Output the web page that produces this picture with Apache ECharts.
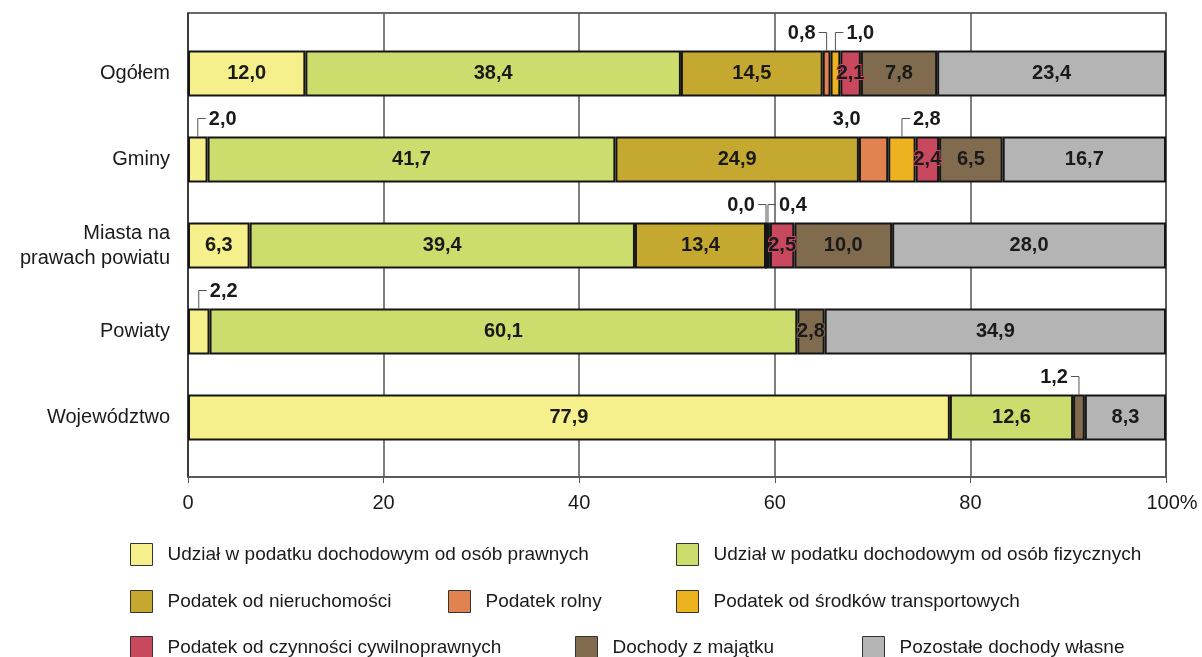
<!DOCTYPE html>
<html>
<head>
<meta charset="utf-8">
<script src="https://cdn.jsdelivr.net/npm/echarts@6/dist/echarts.min.js"></script>
<style>
html,body{margin:0;padding:0;background:#fff;}
#chart{width:1202px;height:657px;}
</style>
</head>
<body>
<div id="chart"></div>
<script>
// ---- data ----
const categories = ['Ogółem', 'Gminy', 'Miasta na\nprawach powiatu', 'Powiaty', 'Województwo'];
const seriesNames = [
  'Udział w podatku dochodowym od osób prawnych',
  'Udział w podatku dochodowym od osób fizycznych',
  'Podatek od nieruchomości',
  'Podatek rolny',
  'Podatek od środków transportowych',
  'Podatek od czynności cywilnoprawnych',
  'Dochody z majątku',
  'Pozostałe dochody własne'
];
const prawne    = [12.0, 2.0, 6.3, 2.2, 77.9];
const fizyczne  = [38.4, 41.7, 39.4, 60.1, 12.6];
const nieruch   = [14.5, 24.9, 13.4, null, null];
const rolny     = [0.8, 3.0, 0.0, null, null];
const transport = [1.0, 2.8, 0.4, null, null];
const czynnosci = [2.1, 2.4, 2.5, null, null];
const majatek   = [7.8, 6.5, 10.0, 2.8, 1.2];
const pozostale = [23.4, 16.7, 28.0, 34.9, 8.3];
const xTicks = [0, 20, 40, 60, 80, 100];
// labels placed above the bar: [seriesIndex, categoryIndex, direction, leader line]
const outsideLabels = [
  [3, 0, -1, true], [4, 0, 1, true],
  [0, 1, 1, true], [3, 1, -1, false], [4, 1, 1, true],
  [3, 2, -1, true], [4, 2, 1, true],
  [0, 3, 1, true],
  [6, 4, -1, true]
];

const values = [prawne, fizyczne, nieruch, rolny, transport, czynnosci, majatek, pozostale];
const colors = ['#F5F08B', '#CCDD6E', '#C5A830', '#E08350', '#EDB220', '#C8485E', '#806B4E', '#B4B4B4'];
const FONT = '"Liberation Sans", Arial, sans-serif';
const fmt = v => v.toFixed(1).replace('.', ',');

function isOutside(s, c) {
  return outsideLabels.some(o => o[0] === s && o[1] === c);
}

const barSeries = values.map((arr, s) => ({
  name: seriesNames[s],
  type: 'bar',
  stack: 'total',
  xAxisIndex: 0,
  yAxisIndex: 0,
  barWidth: 46,
  color: colors[s],
  itemStyle: { color: colors[s], borderColor: '#151515', borderWidth: 2 },
  label: {
    position: 'inside',
    fontFamily: FONT,
    fontSize: 20,
    fontWeight: 'bold',
    color: '#1a1a1a',
    textBorderColor: colors[s],
    textBorderWidth: 2,
    formatter: p => fmt(p.value)
  },
  data: arr.map((v, c) => ({
    value: v,
    label: { show: v != null && !isOutside(s, c) }
  }))
}));

// centres of the small segments with outside labels
const outsideData = outsideLabels.map(o => {
  const [s, c] = o;
  let start = 0;
  for (let k = 0; k < s; k++) start += values[k][c] || 0;
  return [start + values[s][c] / 2, c];
});

const labelSeries = {
  type: 'custom',
  xAxisIndex: 0,
  yAxisIndex: 0,
  silent: true,
  z: 10,
  data: outsideData,
  renderItem: function (params, api) {
    const o = outsideLabels[params.dataIndex];
    const dir = o[2];
    const p = api.coord([api.value(0), api.value(1)]);
    const barTop = p[1] - 23;
    const ey = barTop - 18;
    const children = [];
    let tx;
    if (o[3]) {
      children.push({
        type: 'polyline',
        shape: { points: [[p[0], barTop], [p[0], ey], [p[0] + dir * 8, ey]] },
        style: { stroke: '#555', lineWidth: 1, fill: null }
      });
      tx = p[0] + dir * 11;
    } else {
      tx = p[0] + dir * 13;
    }
    children.push({
      type: 'text',
      style: {
        x: tx, y: ey + 1,
        text: fmt(values[o[0]][o[1]]),
        textAlign: dir > 0 ? 'left' : 'right',
        textVerticalAlign: 'middle',
        font: 'bold 20px ' + FONT,
        fill: '#1a1a1a'
      }
    });
    return { type: 'group', children: children };
  }
};

const legendPos = [
  [130, 543], [676, 543],
  [130, 590], [448, 590], [676, 590],
  [130, 636], [575, 636], [862, 636]
];
const legends = seriesNames.map((n, i) => ({
  data: [n],
  left: legendPos[i][0],
  top: legendPos[i][1],
  padding: 0,
  itemWidth: 22,
  itemHeight: 22,
  icon: 'rect',
  selectedMode: false,
  itemStyle: { borderColor: '#333', borderWidth: 1 },
  textStyle: { fontFamily: FONT, fontSize: 19, color: '#1a1a1a', padding: [0, 0, 0, 10] }
}));

const option = {
  animation: false,
  backgroundColor: '#fff',
  legend: legends,
  grid: [
    { left: 188, right: 36, top: 30.5, height: 430 },
    { left: 188, right: 36, top: 13, bottom: 180, show: true, borderColor: '#3a3a3a', borderWidth: 1.5, backgroundColor: 'transparent' }
  ],
  xAxis: [
    { type: 'value', gridIndex: 0, min: 0, max: 100, show: false },
    {
      type: 'value', gridIndex: 1, min: 0, max: 100, interval: 20,
      axisLine: { show: true, lineStyle: { color: '#555', width: 1.5 } },
      axisTick: { show: true, length: 6, lineStyle: { color: '#555' } },
      splitLine: { show: true, lineStyle: { color: '#555', width: 1.5 } },
      axisLabel: {
        fontFamily: FONT, fontSize: 20, color: '#1a1a1a', margin: 16,
        formatter: v => xTicks.includes(v) ? (v === 100 ? '{p|100%}' : String(v)) : '',
        rich: { p: { fontFamily: FONT, fontSize: 20, color: '#1a1a1a', padding: [0, 0, 0, 12] } }
      }
    }
  ],
  yAxis: [
    {
      type: 'category', gridIndex: 0, data: categories, inverse: true,
      axisLine: { show: false }, axisTick: { show: false }, splitLine: { show: false },
      axisLabel: { fontFamily: FONT, fontSize: 20, color: '#1a1a1a', margin: 18, lineHeight: 25 }
    },
    {
      type: 'value', gridIndex: 1, min: 0, max: 1,
      axisLine: { show: true, lineStyle: { color: '#333', width: 1.5 } },
      axisTick: { show: false }, axisLabel: { show: false }, splitLine: { show: false }
    }
  ],
  series: barSeries.concat([labelSeries])
};

const chart = echarts.init(document.getElementById('chart'));
chart.setOption(option);
</script>
</body>
</html>
